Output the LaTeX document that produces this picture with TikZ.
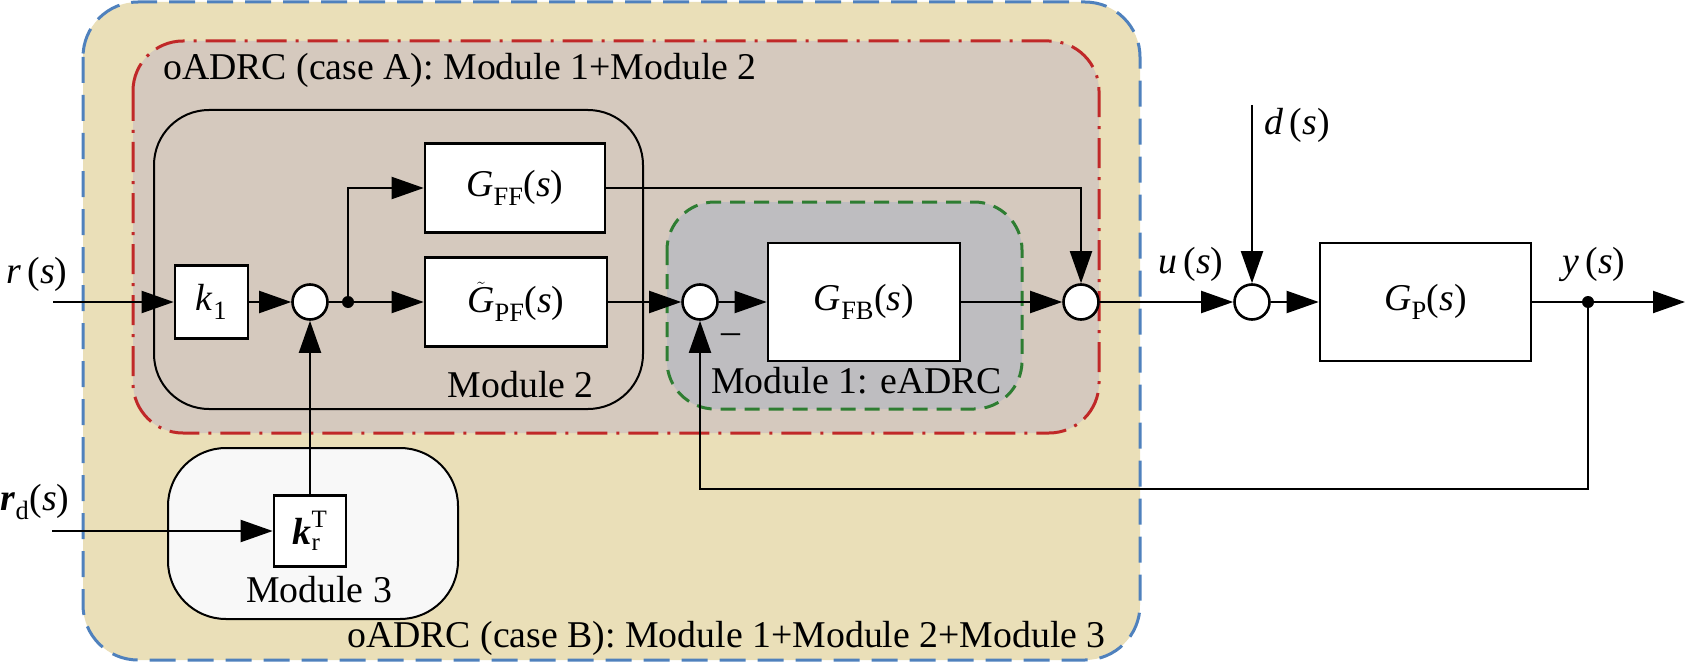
\documentclass[tikz,border=0pt]{standalone}
\usepackage{fontspec}
\setmainfont{Liberation Serif}
\usetikzlibrary{arrows.meta}
\definecolor{beige}{RGB}{234,223,184}
\definecolor{taupe}{RGB}{213,201,190}
\definecolor{greyfill}{RGB}{190,189,192}
\definecolor{blueb}{RGB}{79,129,189}
\definecolor{redb}{RGB}{192,40,40}
\definecolor{greenb}{RGB}{46,125,50}
\definecolor{mthree}{RGB}{248,248,248}
\newcommand\vi[1]{\textit{#1}}
\begin{document}
\begin{tikzpicture}[x=1pt,y=-1pt,
  font=\fontsize{37.8}{45}\selectfont,
  blk/.style={draw,line width=2.6pt,fill=white,inner sep=0pt},
  sumc/.style={circle,draw,line width=2.6pt,fill=white,minimum size=35pt,inner sep=0pt},
  dotc/.style={circle,fill=black,minimum size=12pt,inner sep=0pt},
  wire/.style={line width=2pt},
  conn/.style={line width=2pt,-{Triangle[length=32pt,width=22pt]}},
  lbl/.style={inner sep=0pt}]
\useasboundingbox (0,0) rectangle (1686,666);
% background regions
\draw[fill=beige,draw=blueb,line width=3pt,dash pattern=on 26pt off 12pt,rounded corners=55pt] (83,2) rectangle (1140,660);
\draw[fill=taupe,draw=redb,line width=3pt,dash pattern=on 30pt off 9pt on 3pt off 9pt,rounded corners=50pt] (133,41) rectangle (1099,433);
\draw[line width=2pt,rounded corners=55pt] (154,110) rectangle (643,409);
\draw[fill=greyfill,draw=greenb,line width=3pt,dash pattern=on 15pt off 9pt,rounded corners=48pt] (667,202) rectangle (1022,409);
\draw[fill=mthree,line width=2pt,rounded corners=58pt] (168,448) rectangle (458,619);
% region labels
\node[lbl,anchor=base west] (capA) at (163,80) {oADRC (case A): Module 1+Module 2};
\node[lbl,anchor=base east] (capB) at (1106,647) {oADRC (case B): Module 1+Module 2+Module 3};
\node[lbl,anchor=base east] (m2) at (594,397) {Module 2};
\node[lbl,anchor=base west] (m1) at (711,393) {Module 1: eADRC};
\node[lbl,anchor=base] (m3) at (319,602) {Module 3};
% blocks
\node[blk,minimum width=73pt,minimum height=73pt] (k1) at (211.5,302) {\vi{k}\textsubscript{1}};
\node[sumc] (s1) at (310,302) {};
\node[dotc] (d1) at (348,302) {};
\node[blk,minimum width=180pt,minimum height=89pt] (gff) at (515,188) {\vi{G}\textsubscript{FF}(\vi{s})};
\node[blk,minimum width=182pt,minimum height=89pt] (gpf) at (516,302) {$\tilde{\mbox{\vi{G}}}$\textsubscript{PF}(\vi{s})};
\node[sumc] (s2) at (700,302) {};
\node[blk,minimum width=192pt,minimum height=118pt] (gfb) at (864,302) {\vi{G}\textsubscript{FB}(\vi{s})};
\node[sumc] (s3) at (1081,302) {};
\node[sumc] (s4) at (1252,302) {};
\node[blk,minimum width=211pt,minimum height=118pt] (gp) at (1425.5,302) {\vi{G}\textsubscript{P}(\vi{s})};
\node[dotc] (d2) at (1588,302) {};
\node[blk,minimum width=72pt,minimum height=71pt] (kr) at (310,531) {$\mbox{\textbf{\textit{k}}}^{\mbox{\fontsize{25}{25}\selectfont T}}_{\mbox{\fontsize{25}{25}\selectfont r}}$};
\coordinate (rin) at (53,302);
\coordinate (rdin) at (52,531);
\coordinate (din) at (1252,105);
\coordinate (out) at (1685,302);
\coordinate (fb) at (700,489);
% signal labels
\node[lbl,anchor=base] (lr) at (37,283) {\vi{r}\,(\vi{s})};
\node[lbl,anchor=base] (lrd) at (35,510) {\textbf{\textit{r}}\textsubscript{d}(\vi{s})};
\node[lbl,anchor=base] (ld) at (1297,135) {\vi{d}\,(\vi{s})};
\node[lbl,anchor=base] (lu) at (1191,273) {\vi{u}\,(\vi{s})};
\node[lbl,anchor=base] (ly) at (1594,273) {\vi{y}\,(\vi{s})};
\node[lbl] (minus) at (731,339) {–};
% connectors
\draw[conn] (rin) -- (k1);
\draw[conn] (k1) -- (s1);
\draw[wire] (s1) -- (d1);
\draw[conn] (d1) -- (gpf);
\draw[conn] (d1) |- (gff);
\draw[conn] (gpf) -- (s2);
\draw[conn] (s2) -- (gfb);
\draw[conn] (gfb) -- (s3);
\draw[conn] (gff) -| (s3);
\draw[conn] (s3) -- (s4);
\draw[conn] (din) -- (s4);
\draw[conn] (s4) -- (gp);
\draw[wire] (gp) -- (d2);
\draw[conn] (d2) -- (out);
\draw[conn] (d2) |- (fb) -- (s2);
\draw[conn] (kr) -- (s1);
\draw[conn] (rdin) -- (kr);
\end{tikzpicture}
\end{document}
